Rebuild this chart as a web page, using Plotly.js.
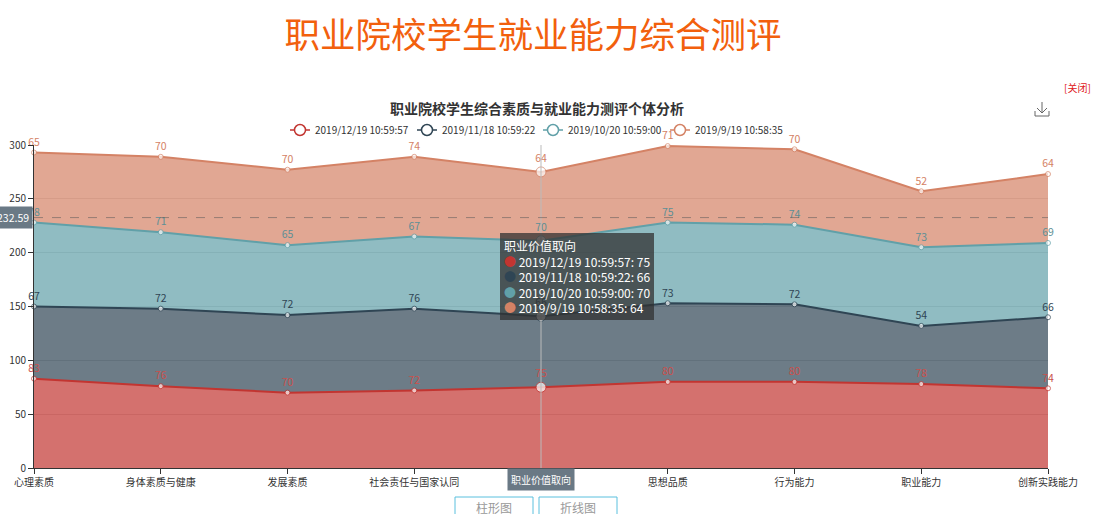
<!DOCTYPE html>
<html>
<head>
<meta charset="utf-8">
<script src="https://cdn.plot.ly/plotly-3.0.1.min.js"></script>
<style>html,body{margin:0;padding:0;background:#fff;}#chart{width:1094px;height:514px;}</style>
</head>
<body>
<div id="chart"></div>
<script>
const categories = ['心理素质','身体素质与健康','发展素质','社会责任与国家认同','职业价值取向','思想品质','行为能力','职业能力','创新实践能力'];
const seriesNames = ['2019/12/19 10:59:57','2019/11/18 10:59:22','2019/10/20 10:59:00','2019/9/19 10:58:35'];
const s1 = [83, 76, 70, 72, 75, 80, 80, 78, 74];
const s2 = [67, 72, 72, 76, 66, 73, 72, 54, 66];
const s3 = [78, 71, 65, 67, 70, 75, 74, 73, 69];
const s4 = [65, 70, 70, 74, 64, 71, 70, 52, 64];
const yTicks = [0, 50, 100, 150, 200, 250, 300];
const pointerIndex = 4;
const pointerY = 232.59;

const seriesValues = [s1, s2, s3, s4];
const lineColors = ['#c23531', '#2f4554', '#61a0a8', '#d48265'];
const fillColors = ['rgba(194,53,49,0.7)', 'rgba(47,69,84,0.7)', 'rgba(97,160,168,0.7)', 'rgba(212,130,101,0.7)'];
const labelColors = ['#c9504c', '#2f4554', '#5d8f96', '#d48265'];
const FONT = '"Noto Sans CJK SC", "Microsoft YaHei", sans-serif';

// plot area pixels
const L = 34, R = 1048, T = 145, B = 468;
const px = x => (x - L) / (R - L);
const py = y => (B - y) / (B - T);

const traces = [];
seriesValues.forEach((vals, i) => {
  traces.push({
    type: 'scatter', mode: 'lines+markers+text',
    x: categories, y: vals, name: seriesNames[i],
    stackgroup: 'one', fillcolor: fillColors[i],
    line: {color: lineColors[i], width: 2},
    marker: {color: '#fff', size: vals.map((v, k) => k === pointerIndex ? 10 : 5), line: {color: lineColors[i], width: 1}},
    text: vals.map(String), textposition: 'top center',
    textfont: {family: FONT, size: 10.5, color: labelColors[i]},
    showlegend: false, hoverinfo: 'skip', cliponaxis: false
  });
});

const shapes = [
  {type: 'line', xref: 'x', yref: 'paper', x0: pointerIndex, x1: pointerIndex, y0: 0, y1: 1, line: {color: '#bbb', width: 1}},
  {type: 'line', xref: 'paper', yref: 'y', x0: 0, x1: 1, y0: pointerY, y1: pointerY, line: {color: 'rgba(90,90,90,0.55)', width: 1, dash: 'dash'}},
  // download icon
  {type: 'path', xref: 'paper', yref: 'paper', path: `M ${px(1042)} ${py(102)} L ${px(1042)} ${py(113)} M ${px(1037)} ${py(108)} L ${px(1042)} ${py(113)} L ${px(1047)} ${py(108)} M ${px(1035)} ${py(111)} L ${px(1035)} ${py(116)} L ${px(1049)} ${py(116)} L ${px(1049)} ${py(111)}`, line: {color: '#666', width: 1}},
  // buttons
  {type: 'rect', xref: 'paper', yref: 'paper', x0: px(455), x1: px(533), y0: py(520), y1: py(497), line: {color: '#5bc0de', width: 1}},
  {type: 'rect', xref: 'paper', yref: 'paper', x0: px(539), x1: px(617), y0: py(520), y1: py(497), line: {color: '#5bc0de', width: 1}}
];

const annotations = [
  {text: '<b>职业院校学生综合素质与就业能力测评个体分析</b>', xref: 'paper', yref: 'paper', x: px(537), y: py(108), xanchor: 'center', yanchor: 'middle', showarrow: false, font: {family: FONT, size: 14, color: '#333'}},
  {text: '[关闭]', xref: 'paper', yref: 'paper', x: px(1093), y: py(88), xanchor: 'right', yanchor: 'middle', showarrow: false, font: {family: FONT, size: 10, color: '#e0201b'}}
];

// custom legend
const legendCenters = [300, 427, 553, 680];
seriesNames.forEach((n, i) => {
  const cx = legendCenters[i], cy = 130;
  shapes.push({type: 'line', xref: 'paper', yref: 'paper', x0: px(cx - 10), x1: px(cx + 10), y0: py(cy), y1: py(cy), line: {color: lineColors[i], width: 1.5}});
  shapes.push({type: 'circle', xref: 'paper', yref: 'paper', x0: px(cx - 5.5), x1: px(cx + 5.5), y0: py(cy + 5.5), y1: py(cy - 5.5), fillcolor: '#fff', line: {color: lineColors[i], width: 1.5}});
  annotations.push({text: n, xref: 'paper', yref: 'paper', x: px(cx + 13), y: py(cy), xanchor: 'left', yanchor: 'middle', showarrow: false, font: {family: FONT, size: 10, color: '#333'}});
});

const dots = lineColors.map(c => `<span style="color:${c};font-size:12px">●</span>`);
const tipLines = ['职业价值取向'].concat(seriesNames.map((n, i) => `${dots[i]} ${n}: ${seriesValues[i][pointerIndex]}`));
annotations.push(
  {text: tipLines.join('<br>'), xref: 'x', yref: 'y', x: pointerIndex, y: 218, xanchor: 'left', yanchor: 'top', xshift: -41, align: 'left', showarrow: false,
   bgcolor: 'rgba(50,50,50,0.75)', borderwidth: 0, borderpad: 4, font: {family: FONT, size: 12, color: '#fff'}},
  {text: categories[pointerIndex], xref: 'x', yref: 'paper', x: pointerIndex, y: py(479), xanchor: 'center', yanchor: 'middle', showarrow: false,
   bgcolor: '#6a7985', borderpad: 3, font: {family: FONT, size: 10, color: '#fff'}},
  {text: String(pointerY), xref: 'paper', yref: 'y', x: 0, y: pointerY, xanchor: 'right', yanchor: 'middle', xshift: -1, showarrow: false,
   bgcolor: '#6a7985', borderpad: 3, font: {family: FONT, size: 10.5, color: '#fff'}},
  {text: '柱形图', xref: 'paper', yref: 'paper', x: px(494), y: py(507), xanchor: 'center', yanchor: 'middle', showarrow: false, font: {family: FONT, size: 12, color: '#999'}},
  {text: '折线图', xref: 'paper', yref: 'paper', x: px(578), y: py(507), xanchor: 'center', yanchor: 'middle', showarrow: false, font: {family: FONT, size: 12, color: '#999'}}
);

const layout = {
  width: 1094, height: 514,
  margin: {l: L, r: 1094 - R, t: T, b: 514 - B, pad: 0},
  paper_bgcolor: '#fff', plot_bgcolor: '#fff',
  font: {family: FONT, size: 11, color: '#333'},
  title: {text: '职业院校学生就业能力综合测评', font: {family: FONT, size: 35.5, color: '#f2600d'},
          x: 533 / 1094, xref: 'container', xanchor: 'center', y: 1 - 36 / 514, yref: 'container', yanchor: 'middle'},
  xaxis: {type: 'category', range: [0, categories.length - 1], showgrid: false, zeroline: false,
          tickvals: categories, ticktext: categories.map((c, k) => k === pointerIndex ? '' : c),
          showline: true, linecolor: '#333', linewidth: 1, ticks: 'outside', ticklen: 5, tickcolor: '#333',
          tickfont: {family: FONT, size: 10, color: '#333'}},
  yaxis: {range: [0, 300], tickvals: yTicks, showgrid: true, gridcolor: 'rgba(150,150,150,0.35)', zeroline: false,
          showline: true, linecolor: '#333', linewidth: 1, ticks: 'outside', ticklen: 5, tickcolor: '#333',
          tickfont: {family: FONT, size: 10, color: '#333'}},
  showlegend: false,
  hovermode: false,
  shapes: shapes,
  annotations: annotations
};

Plotly.newPlot('chart', traces, layout, {displayModeBar: false, staticPlot: true});
</script>
</body>
</html>
